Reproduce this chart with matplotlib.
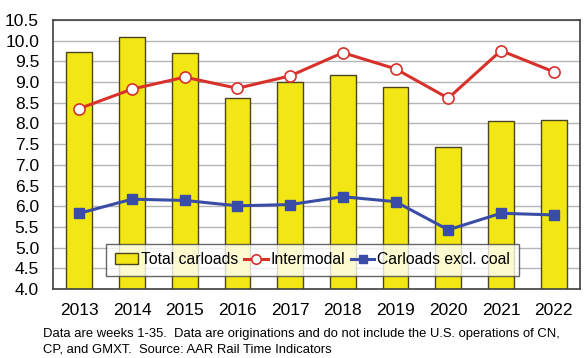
import matplotlib
matplotlib.use("Agg")
import matplotlib.pyplot as plt
import numpy as np

years = ["2013", "2014", "2015", "2016", "2017", "2018", "2019", "2020", "2021", "2022"]
total_carloads = [9.73, 10.10, 9.71, 8.62, 9.00, 9.17, 8.87, 7.44, 8.07, 8.08]
intermodal = [8.36, 8.83, 9.12, 8.85, 9.15, 9.71, 9.32, 8.61, 9.76, 9.25]
carloads_excl_coal = [5.83, 6.17, 6.14, 6.01, 6.04, 6.23, 6.11, 5.43, 5.83, 5.79]
yticks = [4.0, 4.5, 5.0, 5.5, 6.0, 6.5, 7.0, 7.5, 8.0, 8.5, 9.0, 9.5, 10.0, 10.5]

plt.rcParams['font.family'] = ['Liberation Sans', 'DejaVu Sans']

fig = plt.figure(figsize=(5.88, 3.58), dpi=100)
ax = fig.add_axes([53/588, 1 - 289/358, 527/588, 269/358])

x = np.arange(len(years))
b = ax.bar(x, total_carloads, width=0.49, color="#F2E714", edgecolor="#4a4420",
           linewidth=1.0, label="Total carloads", zorder=2)
l1, = ax.plot(x, intermodal, color="#D8312B", lw=2.2, marker="o", ms=8,
              mfc="white", mec="#D8312B", mew=1.2, label="Intermodal", zorder=3)
l2, = ax.plot(x, carloads_excl_coal, color="#3A4DA6", lw=2.2, marker="s", ms=7,
              mfc="#3A4DA6", mec="#3A4DA6", label="Carloads excl. coal", zorder=3)

ax.set_xlim(-0.5, len(years) - 0.5)
ax.set_ylim(4.0, 10.5)
ax.set_yticks(yticks)
ax.set_yticklabels([f"{v:.1f}" for v in yticks], fontsize=12.5)
ax.set_xticks(x)
ax.set_xticklabels(years, fontsize=12.5)
ax.tick_params(axis="x", length=0, pad=10)
ax.tick_params(axis="y", length=0, pad=10)
ax.yaxis.grid(True, color="#b5b5b5", lw=1.0, zorder=0)
ax.set_axisbelow(True)
for s in ax.spines.values():
    s.set_color("#404040")
    s.set_linewidth(1.2)

leg = ax.legend([b, l1, l2], ["Total carloads", "Intermodal", "Carloads excl. coal"],
                loc="lower left", bbox_to_anchor=(53/527, 13/269, 413/527, 31/269),
                ncol=3, fontsize=11.3, frameon=True, fancybox=False,
                edgecolor="#404040", handlelength=1.5, handletextpad=0.2,
                columnspacing=1.0, borderpad=0.55, borderaxespad=0.0,
                mode="expand", markerscale=0.85)
leg.get_frame().set_linewidth(1.0)

fig.text(43/588, 1 - 334/358, "Data are weeks 1-35.  Data are originations and do not include the U.S. operations of CN,",
         fontsize=9.4, va="center", ha="left")
fig.text(43/588, 1 - 350/358, "CP, and GMXT.  Source: AAR Rail Time Indicators",
         fontsize=9.4, va="center", ha="left")

fig.savefig("out.png", dpi=100)
